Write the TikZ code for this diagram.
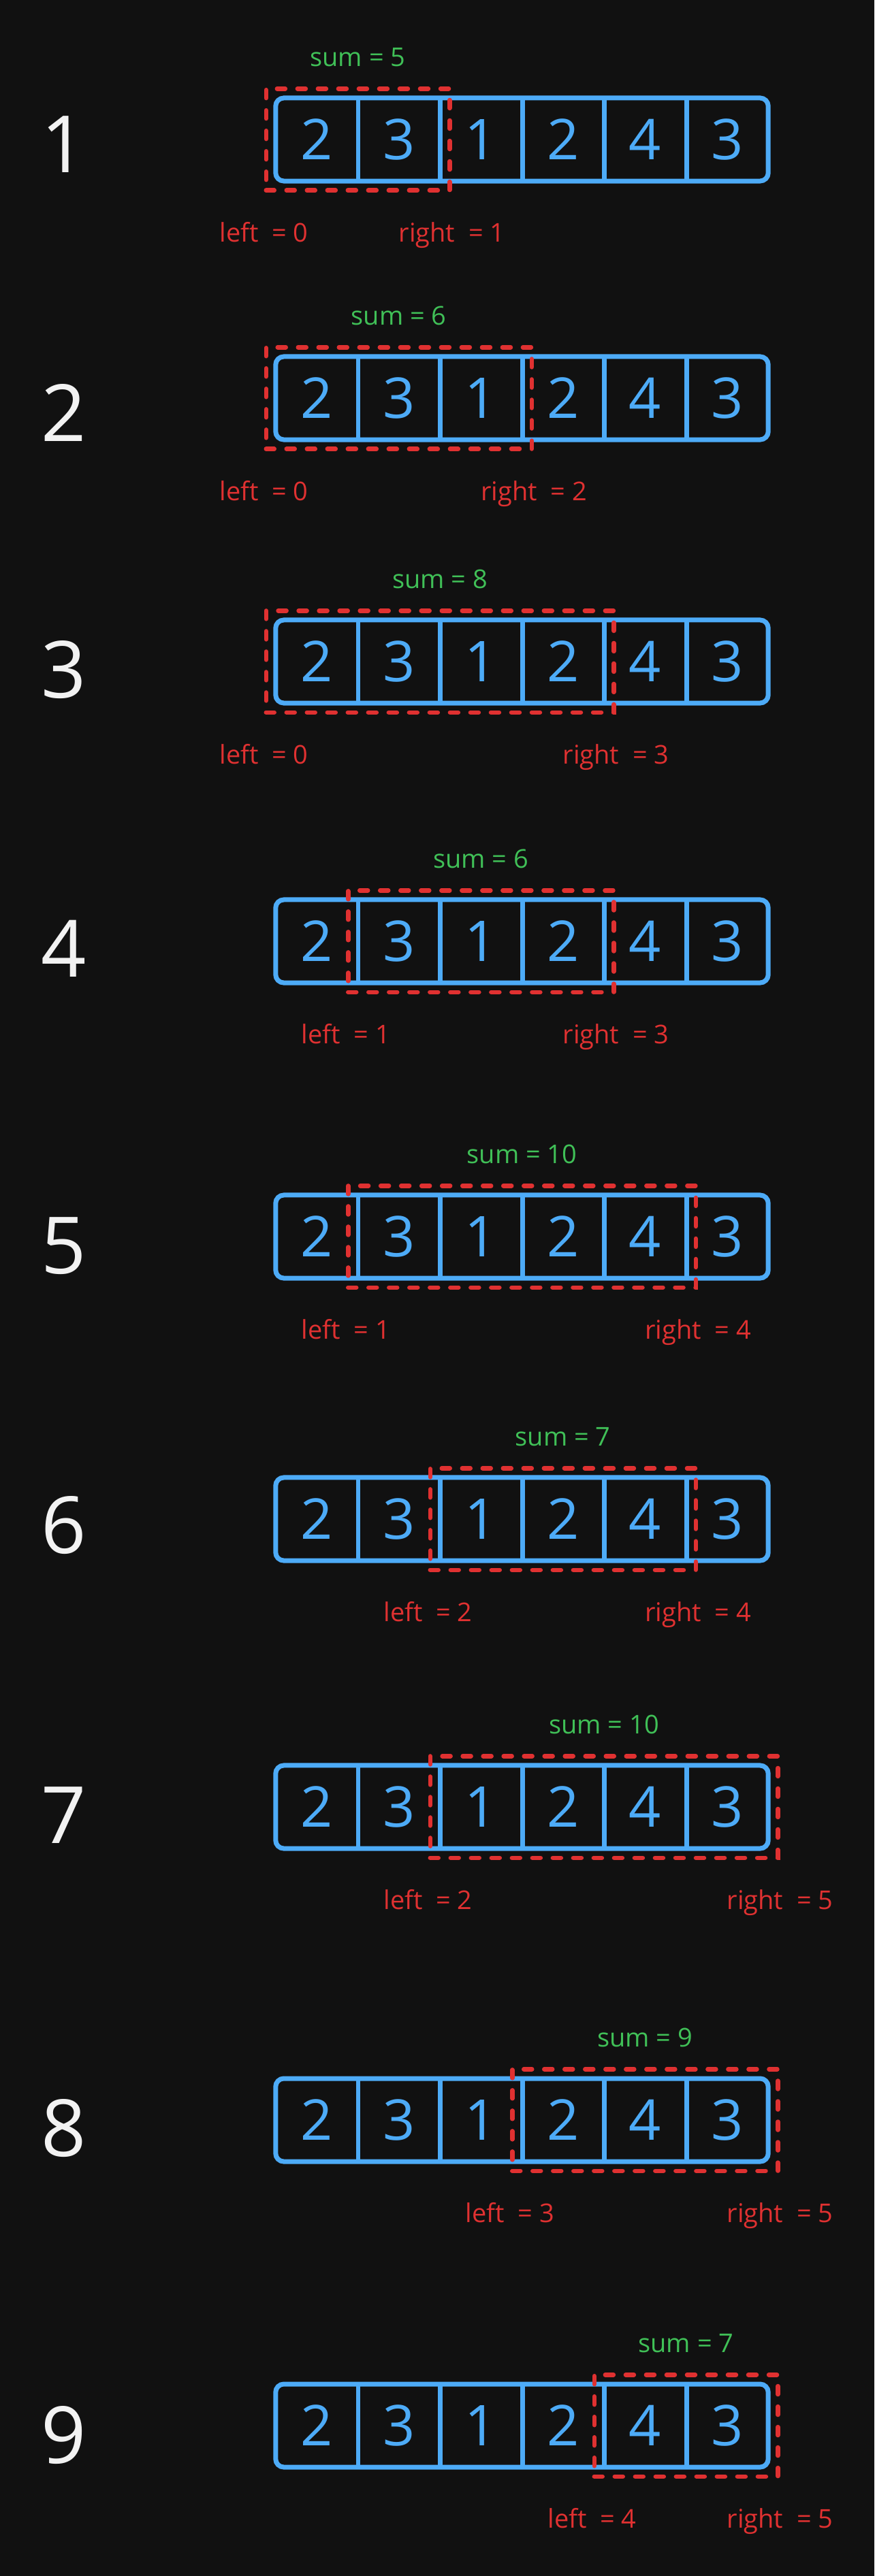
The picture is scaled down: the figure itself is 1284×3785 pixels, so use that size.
\documentclass[tikz,border=0pt]{standalone}
\usepackage{fontspec}
\setmainfont{Open Sans}
\usetikzlibrary{positioning,fit}

\definecolor{bgdark}{HTML}{111111}
\definecolor{arrblue}{HTML}{4DABF7}
\definecolor{winred}{HTML}{E03131}
\definecolor{sumgreen}{HTML}{40C057}
\definecolor{numwhite}{HTML}{F2F2F2}

\begin{document}
\begin{tikzpicture}[x=0.01cm, y=-0.01cm,
  arr/.style={draw=arrblue, line width=0.07cm, rounded corners=0.12cm, minimum width=7.23cm, minimum height=1.22cm, inner sep=0},
  cell/.style={minimum width=1.205cm, minimum height=1.22cm, inner sep=0, text=arrblue, font=\fontsize{23.5}{28}\selectfont},
  divider/.style={draw=arrblue, line width=0.065cm},
  win/.style={draw=winred, line width=0.065cm, dash pattern=on 0.12cm off 0.18cm, line cap=round, inner xsep=0.135cm, inner ysep=0.13cm},
  sumlbl/.style={inner sep=0, text=sumgreen, font=\fontsize{10.8}{13}\selectfont},
  ptrlbl/.style={inner sep=0, text=winred, font=\fontsize{10.8}{13}\selectfont},
  rownum/.style={inner sep=0, text=numwhite, font=\fontsize{33}{40}\selectfont}]

\fill[bgdark] (0,0) rectangle (1284,3785);

% one row per step of the sliding window: row / array y / number y / left / right / sum
\foreach \r/\cy/\ny/\L/\R/\s in {1/205/212/0/1/5, 2/585/606/0/2/6, 3/972/984/0/3/8,
    4/1383/1394/1/3/6, 5/1817/1831/1/4/10, 6/2232/2241/2/4/7,
    7/2655/2667/2/5/10, 8/3115/3127/3/5/9, 9/3564/3578/4/5/7} {

  \node[rownum] (n\r) at (94,\ny) {\r};

  \node[arr] (arr\r) at (766.5,\cy) {};
  \foreach \v [count=\i from 0] in {2,3,1,2,4,3}
    \node[cell] (c\r-\i) at ({405+120.5*(\i+0.5)},\cy) {\v};
  \foreach \i in {0,...,4}
    \draw[divider] (c\r-\i.north east) -- (c\r-\i.south east);

  \node[win, fit=(c\r-\L)(c\r-\R)] (win\r) {};

  \node[sumlbl, above=0.28cm of win\r] (s\r) {sum = \s};
  \node[ptrlbl, below=0.43cm of win\r.south west] (l\r) {left\ \ = \L};
  \node[ptrlbl, below=0.43cm of win\r.south east] (rt\r) {right\ \ = \R};
}

\end{tikzpicture}
\end{document}
